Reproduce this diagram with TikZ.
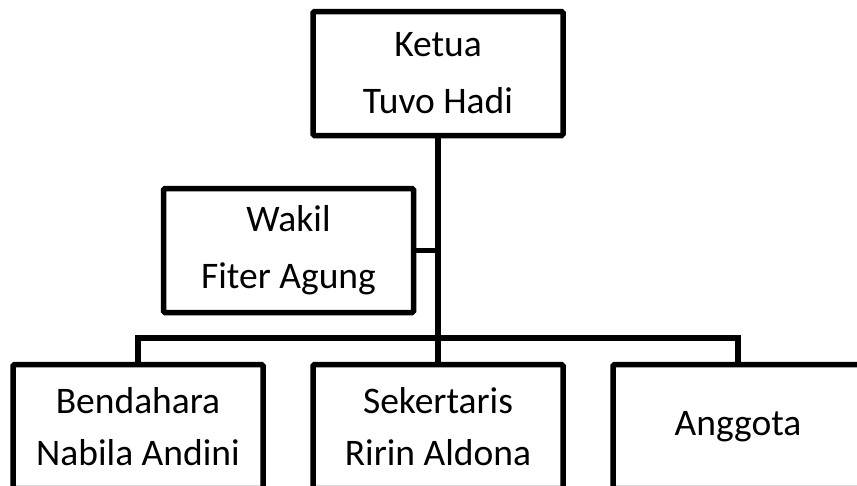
\documentclass[tikz,border=0pt]{standalone}
\usepackage{fontspec}
\setmainfont{Carlito}
\begin{document}
\begin{tikzpicture}[x=1pt,y=-1pt,
  box/.style={draw, line width=5.5pt, minimum width=250pt, minimum height=124pt,
    inner sep=0pt, align=center, rounded corners=1.5pt,
    font=\fontsize{37.5}{57}\selectfont},
  conn/.style={line width=5.5pt}]
\useasboundingbox (0,0) rectangle (857,485);
\clip (0,0) rectangle (857,485);
\node[box] (ketua) at (438,73.5) {Ketua\\Tuvo Hadi};
\node[box] (wakil) at (288.5,250.5) {Wakil\\Fiter Agung};
\node[box, font=\fontsize{37.5}{52}\selectfont] (bend) at (138,426.5) {Bendahara\\Nabila Andini};
\node[box, font=\fontsize{37.5}{52}\selectfont] (sek) at (438,426.5) {Sekertaris\\Ririn Aldona};
\node[box] (ang) at (738,426.5) {Anggota};
\coordinate (bus) at (438,338);
\draw[conn] (ketua.south) -- (sek.north);
\draw[conn] (wakil.east) -- (ketua.south |- wakil.east);
\draw[conn] (bend.north) -- (bend.north |- bus) -- (ang.north |- bus) -- (ang.north);
\end{tikzpicture}
\end{document}
